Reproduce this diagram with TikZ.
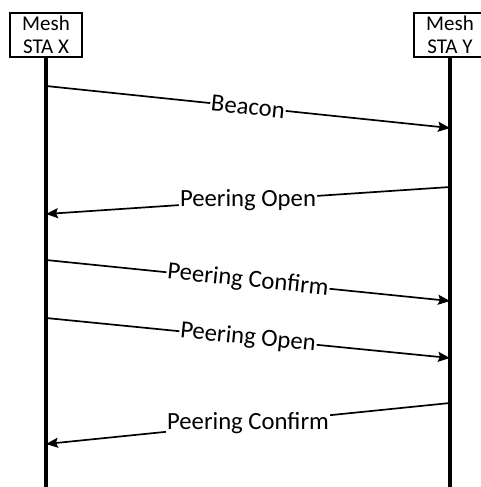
\documentclass[tikz,border=0pt]{standalone}
\usepackage{fontspec}
\setmainfont{Carlito}
\usetikzlibrary{arrows.meta}
\begin{document}
\begin{tikzpicture}[x=1pt,y=-1pt,
  station/.style={draw,line width=2.8pt,minimum width=72pt,minimum height=44pt,
    inner sep=0pt,align=center,font=\fontsize{21}{23}\selectfont},
  lifeline/.style={line width=3.2pt},
  msg/.style={line width=1.7pt,-{Stealth[length=12pt,width=10pt,inset=2pt]}},
  msglabel/.style={fill=white,inner sep=1pt,font=\fontsize{24.7}{27}\selectfont}]
\useasboundingbox (0,0) rectangle (481,487);
\begin{scope}
\clip (0,0) rectangle (481,487);
% stations
\node[station] (x) at (46,35) {Mesh\\STA X};
\node[station] (y) at (450,35) {Mesh\\STA Y};
% lifelines
\coordinate (xend) at (46,490);
\coordinate (yend) at (450,490);
\draw[lifeline] (x.south) -- (xend);
\draw[lifeline] (y.south) -- (yend);
% message end points on the lifelines
\coordinate (m1a) at (46,86);   \coordinate (m1b) at (450,128);
\coordinate (m2a) at (450,187); \coordinate (m2b) at (46,214);
\coordinate (m3a) at (46,260);  \coordinate (m3b) at (450,301);
\coordinate (m4a) at (46,318);  \coordinate (m4b) at (450,358);
\coordinate (m5a) at (450,403); \coordinate (m5b) at (46,444);
% messages
\draw[msg] (m1a) -- node[msglabel,sloped] (l1) {Beacon} (m1b);
\draw[msg] (m2a) -- node[msglabel] (l2) {Peering Open} (m2b);
\draw[msg] (m3a) -- node[msglabel,sloped] (l3) {Peering Confirm} (m3b);
\draw[msg] (m4a) -- node[msglabel,sloped] (l4) {Peering Open} (m4b);
\draw[msg] (m5a) -- node[msglabel] (l5) {Peering Confirm} (m5b);
\end{scope}
\end{tikzpicture}
\end{document}
